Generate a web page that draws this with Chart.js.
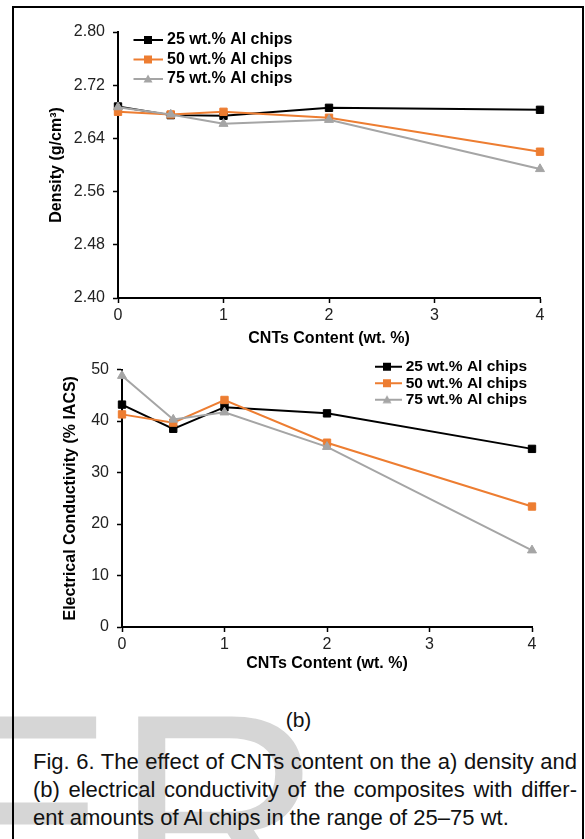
<!DOCTYPE html>
<html><head><meta charset="utf-8">
<script src="https://cdn.jsdelivr.net/npm/chart.js@4.4.0/dist/chart.umd.min.js"></script>
<style>
html,body{margin:0;padding:0;background:#fff;width:585px;height:839px;overflow:hidden;font-family:"Liberation Sans",Arial,sans-serif;}
#wm{position:absolute;left:-79px;top:670px;font-size:290px;line-height:1;color:#d6d6d6;white-space:nowrap;}
#frame{position:absolute;left:12px;top:6px;width:568px;height:900px;border:2px solid #000;}
#c1{position:absolute;left:0;top:0;}
#c2{position:absolute;left:0;top:352px;}
#sub{position:absolute;left:0;width:597px;top:706px;text-align:center;font-size:21px;line-height:28px;color:#111;}
#cap{position:absolute;left:33px;width:544px;top:748px;font-size:22px;line-height:28px;color:#111;}
#cap div{white-space:nowrap;}
#cap .j{text-align:justify;text-align-last:justify;white-space:normal;}
</style></head>
<body>
<div id="wm">ER</div>
<div id="frame"></div>
<canvas id="c1" width="585" height="352"></canvas>
<canvas id="c2" width="585" height="330"></canvas>
<div id="sub">(b)</div>
<div id="cap"><div class="j">Fig. 6. The effect of CNTs content on the a) density and</div><div class="j">(b) electrical conductivity of the composites with differ-</div><div>ent amounts of Al chips in the range of 25–75 wt.</div></div>
<script>
// ---- data ----
const cnt = [0, 0.5, 1, 2, 4];
const seriesLabels = ['25 wt.% Al chips', '50 wt.% Al chips', '75 wt.% Al chips'];
const density25 = [2.688, 2.675, 2.674, 2.686, 2.683];
const density50 = [2.680, 2.676, 2.680, 2.671, 2.620];
const density75 = [2.687, 2.676, 2.662, 2.668, 2.594];
const cond25 = [43.2, 38.5, 42.7, 41.5, 34.6];
const cond50 = [41.3, 39.7, 44.1, 35.8, 23.4];
const cond75 = [48.8, 40.3, 41.7, 35.0, 14.9];
const xTicks = [0, 1, 2, 3, 4];
const densityTicks = [2.40, 2.48, 2.56, 2.64, 2.72, 2.80];
const condTicks = [0, 10, 20, 30, 40, 50];

const FONT = '"Liberation Sans", Arial, sans-serif';
const colors = ['#000000', '#ED7D31', '#A5A5A5'];
const styles = ['rect', 'rect', 'triangle'];

function legendIcon(color, style) {
  const c = document.createElement('canvas');
  c.width = 30; c.height = 12;
  const ctx = c.getContext('2d');
  ctx.strokeStyle = color; ctx.lineWidth = 2;
  ctx.beginPath(); ctx.moveTo(0, 6); ctx.lineTo(30, 6); ctx.stroke();
  ctx.fillStyle = color;
  if (style === 'rect') ctx.fillRect(11, 2, 8, 8);
  else { ctx.beginPath(); ctx.moveTo(15, 1.5); ctx.lineTo(19.5, 9.5); ctx.lineTo(10.5, 9.5); ctx.closePath(); ctx.fill(); }
  return c;
}
const icons = colors.map((c, i) => legendIcon(c, styles[i]));

const legendPlace = {
  id: 'legendPlace',
  afterLayout(chart, args, opts) {
    const lg = chart.legend;
    if (!lg || opts.left == null) return;
    const w = lg.width, h = lg.height;
    lg.left = opts.left; lg.top = opts.top; lg.right = opts.left + w; lg.bottom = opts.top + h;
  }
};

function makeDatasets(arrs) {
  return arrs.map((vals, i) => ({
    label: seriesLabels[i],
    data: cnt.map((x, j) => ({x: x, y: vals[j]})),
    borderColor: colors[i], backgroundColor: colors[i],
    borderWidth: 2, tension: 0, fill: false,
    pointStyle: styles[i], pointRadius: 5.2, pointBorderWidth: 1,
    pointBorderColor: colors[i], pointBackgroundColor: colors[i],
    order: 3 - i, clip: false
  }));
}

function axisCommon() {
  return {
    border: {display: true, color: '#000', width: 2},
    grid: {display: true, drawOnChartArea: false, drawTicks: true, tickLength: 5, tickColor: '#000', tickWidth: 1.5, color: '#000'},
  };
}

function makeChart(id, datasets, yTicks, yMin, yMax, fmt, geom) {
  return new Chart(document.getElementById(id), {
    type: 'line',
    data: {datasets},
    plugins: [legendPlace],
    options: {
      responsive: false, animation: false, devicePixelRatio: 1,
      layout: {padding: geom.padding},
      plugins: {
        tooltip: {enabled: false},
        legend: {
          display: true, position: 'chartArea', align: 'start',
          labels: {
            usePointStyle: true, pointStyleWidth: 22, padding: geom.legendPad,
            color: '#000', font: {size: geom.legendFont, weight: 'bold', family: FONT},
            sort: (a, b) => a.datasetIndex - b.datasetIndex,
            generateLabels: (chart) => chart.data.datasets.map((ds, i) => ({
              text: ds.label, pointStyle: icons[i], fillStyle: ds.borderColor,
              strokeStyle: ds.borderColor, lineWidth: 0, hidden: false, datasetIndex: i, fontColor: '#000'
            }))
          }
        },
        legendPlace: geom.legendPos
      },
      scales: {
        x: Object.assign(axisCommon(), {
          type: 'linear', min: 0, max: 4,
          afterBuildTicks: s => { s.ticks = xTicks.map(v => ({value: v})); },
          afterFit: s => { s.height = geom.xH; },
          ticks: {color: '#222', font: {size: 16, family: FONT}, padding: 3, maxRotation: 0, autoSkip: false},
          title: {display: true, text: 'CNTs Content (wt. %)', color: '#000', font: {size: 16, weight: 'bold', family: FONT}, padding: {top: 4, bottom: 4}}
        }),
        y: Object.assign(axisCommon(), {
          type: 'linear', min: yMin, max: yMax,
          afterBuildTicks: s => { s.ticks = yTicks.map(v => ({value: v})); },
          afterFit: s => { s.width = geom.yW; },
          ticks: {color: '#222', font: {size: 16, family: FONT}, padding: 8, callback: fmt, autoSkip: false},
          title: {display: true, text: geom.yTitle, color: '#000', font: {size: 16, weight: 'bold', family: FONT}, padding: {top: 4, bottom: 4}}
        })
      }
    }
  });
}

makeChart('c1', makeDatasets([density25, density50, density75]), densityTicks, 2.40, 2.80,
  v => Number(v).toFixed(2),
  {padding: {left: 43, right: 45, top: 32, bottom: 0}, xH: 54, yW: 75, yTitle: 'Density (g/cm³)',
   legendPad: 3.5, legendFont: 16, legendPos: {left: 133.5, top: 28.5}});

makeChart('c2', makeDatasets([cond25, cond50, cond75]), condTicks, 0, 50,
  v => String(v),
  {padding: {left: 57, right: 53, top: 14, bottom: 5}, xH: 50, yW: 65, yTitle: 'Electrical Conductivity (% IACS)',
   legendPad: 1, legendFont: 15.5, legendPos: {left: 375, top: 6}});
</script>
</body></html>
